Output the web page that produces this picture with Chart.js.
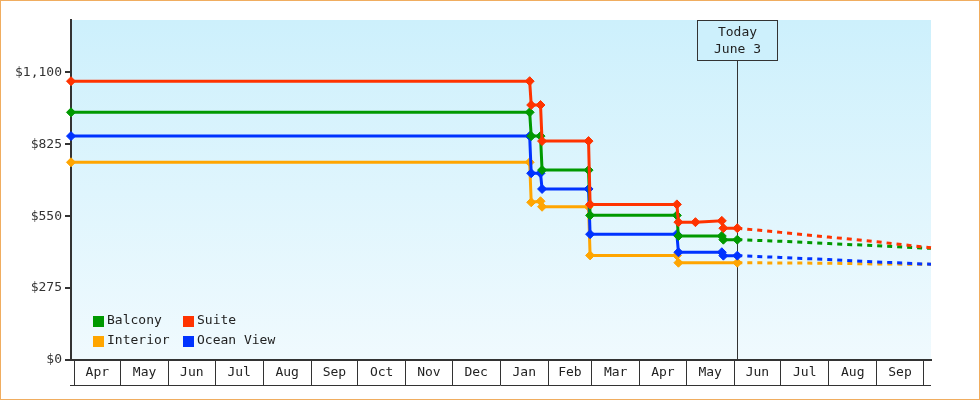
<!DOCTYPE html>
<html>
<head>
<meta charset="utf-8">
<script src="https://cdn.jsdelivr.net/npm/chart.js@4/dist/chart.umd.min.js"></script>
<style>
  html, body { margin: 0; padding: 0; background: #fff; }
  canvas { display: block; }
</style>
</head>
<body>
<canvas id="grafica" width="980" height="400"></canvas>
<script>
// fechas de cambio de precio y precios por cabina
var balconyDates = ['2024-03-30','2025-01-20','2025-01-21','2025-01-27','2025-01-28','2025-02-27','2025-02-28','2025-04-25','2025-04-26','2025-05-24','2025-05-25','2025-06-03'];
var balconyPrices = [947, 947, 856, 856, 726, 726, 553, 553, 474, 474, 460, 460];

var suiteDates = ['2024-03-30','2025-01-20','2025-01-21','2025-01-27','2025-01-28','2025-02-27','2025-02-28','2025-04-25','2025-04-26','2025-05-07','2025-05-24','2025-05-25','2025-06-03'];
var suitePrices = [1066, 1066, 975, 975, 837, 837, 595, 595, 527, 527, 532, 504, 504];

var interiorDates = ['2024-03-30','2025-01-20','2025-01-21','2025-01-27','2025-01-28','2025-02-27','2025-02-28','2025-04-25','2025-04-26','2025-06-03'];
var interiorPrices = [756, 756, 603, 607, 586, 586, 400, 400, 372, 372];

var oceanDates = ['2024-03-30','2025-01-20','2025-01-21','2025-01-27','2025-01-28','2025-02-27','2025-02-28','2025-04-25','2025-04-26','2025-05-24','2025-05-25','2025-06-03'];
var oceanPrices = [856, 856, 714, 714, 654, 654, 481, 481, 412, 412, 399, 399];

// pronostico (linea punteada) despues de hoy
var forecastDates = ['2025-07-01','2025-08-01','2025-09-01','2025-10-06'];
var balconyForecast = [454, 445, 437, 427];
var suiteForecast = [488, 470, 452, 429];
var interiorForecast = [371, 370, 367, 366];
var oceanForecast = [392, 384, 375, 366];

var monthLabels = ['Apr','May','Jun','Jul','Aug','Sep','Oct','Nov','Dec','Jan','Feb','Mar','Apr','May','Jun','Jul','Aug','Sep'];
var yTicks = [0, 275, 550, 825, 1100];
var today = '2025-06-03';
var todayText = ['Today', 'June 3'];

var fuente = "'DejaVu Sans Mono', monospace";
var origen = Date.parse('2024-04-01');
function dia(s){
    return (Date.parse(s) - origen) / 86400000;
}
var hoy = dia(today);

var inicioMeses = [];
for (var i = 0; i <= monthLabels.length; i++) {
    inicioMeses.push((Date.UTC(2024, 3 + i, 1) - origen) / 86400000);
}

function serie(label, color, fechas, precios, pron, orden){
    var puntos = fechas.map(function(f, i){ return {x: dia(f), y: precios[i]}; });
    forecastDates.forEach(function(f, i){ puntos.push({x: dia(f), y: pron[i]}); });
    return {
        label: label,
        data: puntos,
        order: orden,
        borderColor: color,
        backgroundColor: color,
        borderWidth: 3,
        tension: 0,
        clip: false,
        pointStyle: 'rectRot',
        pointRadius: function(ctx){ return ctx.raw && ctx.raw.x > hoy ? 0 : 4.5; },
        pointBorderWidth: 1,
        segment: {
            borderDash: function(ctx){ return ctx.p0.parsed.x >= hoy ? [5, 5] : undefined; }
        }
    };
}

var fondo = {
    id: 'fondo',
    beforeDraw: function(chart){
        var c = chart.ctx, a = chart.chartArea;
        c.save();
        c.fillStyle = '#ffffff';
        c.fillRect(0, 0, chart.width, chart.height);
        var g = c.createLinearGradient(0, a.top, 0, a.bottom);
        g.addColorStop(0, '#cdf0fc');
        g.addColorStop(1, '#f0fafe');
        c.fillStyle = g;
        c.fillRect(a.left, a.top, a.right - a.left, a.bottom - a.top);
        c.restore();
    },
    beforeDatasetsDraw: function(chart){
        var c = chart.ctx, a = chart.chartArea;
        var x = Math.round(chart.scales.x.getPixelForValue(hoy)) + 0.5;
        c.save();
        c.strokeStyle = '#333';
        c.lineWidth = 1;
        c.beginPath();
        c.moveTo(x, a.top + 41);
        c.lineTo(x, a.bottom);
        c.stroke();
        c.fillStyle = '#cdf0fc';
        c.fillRect(x - 40, a.top + 0.5, 80, 40);
        c.strokeRect(x - 40, a.top + 0.5, 80, 40);
        c.fillStyle = '#222';
        c.font = '13px ' + fuente;
        c.textAlign = 'center';
        c.textBaseline = 'middle';
        c.fillText(todayText[0], x, a.top + 13);
        c.fillText(todayText[1], x, a.top + 30);
        c.restore();
    },
    afterDraw: function(chart){
        var c = chart.ctx, a = chart.chartArea, sx = chart.scales.x;
        c.save();
        // etiquetas de meses
        c.fillStyle = '#222';
        c.font = '13px ' + fuente;
        c.textAlign = 'center';
        c.textBaseline = 'middle';
        for (var i = 0; i < monthLabels.length; i++) {
            var x1 = sx.getPixelForValue(inicioMeses[i]);
            var x2 = sx.getPixelForValue(inicioMeses[i + 1]);
            c.fillText(monthLabels[i], (x1 + x2) / 2, a.bottom + 13);
        }
        c.strokeStyle = '#333';
        c.lineWidth = 1;
        c.beginPath();
        c.moveTo(a.left - 1, a.bottom + 25.5);
        c.lineTo(a.right, a.bottom + 25.5);
        c.stroke();
        // leyenda
        var ds = chart.data.datasets;
        for (var j = 0; j < ds.length; j++) {
            var lx = 93 + (j % 2) * 90;
            var ly = 321 + Math.floor(j / 2) * 20;
            c.fillStyle = ds[j].borderColor;
            c.fillRect(lx, ly - 5, 11, 11);
            c.fillStyle = '#222';
            c.textAlign = 'left';
            c.fillText(ds[j].label, lx + 14, ly);
        }
        // borde
        c.strokeStyle = '#f0ad60';
        c.strokeRect(0.5, 0.5, chart.width - 1, chart.height - 1);
        c.restore();
    }
};

Chart.defaults.font.family = fuente;
Chart.defaults.font.size = 13;
Chart.defaults.color = '#333';

var canva = document.getElementById('grafica').getContext('2d');
var chartP = new Chart(canva, {
    type: 'line',
    data: {
        datasets: [
            serie('Balcony', '#009900', balconyDates, balconyPrices, balconyForecast, 1),
            serie('Suite', '#ff3300', suiteDates, suitePrices, suiteForecast, 0),
            serie('Interior', '#ffa500', interiorDates, interiorPrices, interiorForecast, 3),
            serie('Ocean View', '#0033ff', oceanDates, oceanPrices, oceanForecast, 2)
        ]
    },
    options: {
        responsive: false,
        animation: false,
        events: [],
        layout: { padding: { left: 0, top: 20, right: 49, bottom: 0 } },
        plugins: {
            legend: { display: false },
            tooltip: { enabled: false }
        },
        scales: {
            x: {
                type: 'linear',
                min: dia('2024-03-30'),
                max: dia('2025-10-06'),
                afterBuildTicks: function(axis){
                    axis.ticks = inicioMeses.map(function(v){ return {value: v}; });
                },
                afterFit: function(scale){ scale.height = 40; },
                ticks: { display: false },
                grid: { drawOnChartArea: false, tickLength: 25, color: '#333', lineWidth: 1 },
                border: { display: true, color: '#333', width: 2 }
            },
            y: {
                min: 0,
                max: 1300,
                afterBuildTicks: function(axis){
                    axis.ticks = yTicks.map(function(v){ return {value: v}; });
                },
                afterFit: function(scale){ scale.width = 71; },
                ticks: {
                    padding: 3,
                    color: '#333',
                    callback: function(v){ return '$' + v.toLocaleString('en-US'); }
                },
                grid: { drawOnChartArea: false, tickLength: 6, color: '#333', lineWidth: 2 },
                border: { display: true, color: '#333', width: 2 }
            }
        }
    },
    plugins: [fondo]
});
</script>
</body>
</html>
